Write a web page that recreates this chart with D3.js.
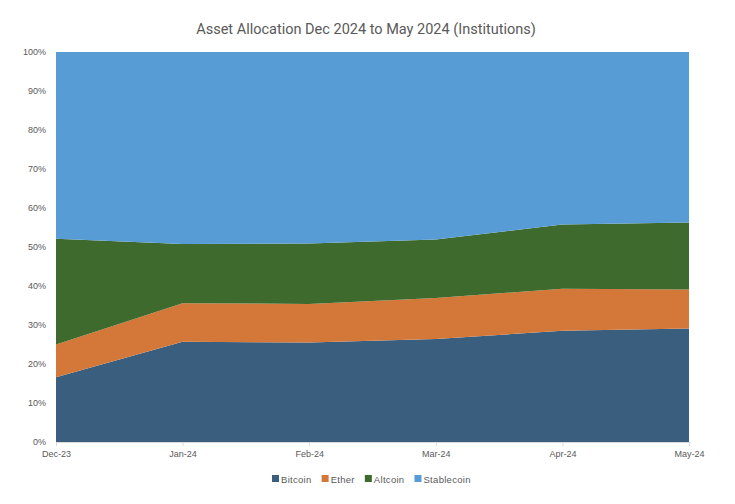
<!DOCTYPE html>
<html>
<head>
<meta charset="utf-8">
<script src="https://cdn.jsdelivr.net/npm/d3@7"></script>
<style>
  body { margin: 0; background: #fff; }
  text { font-family: "Liberation Sans", Arial, sans-serif; }
</style>
</head>
<body>
<svg id="chart" width="735" height="504"></svg>
<script>
// chart data
const months = ["Dec-23", "Jan-24", "Feb-24", "Mar-24", "Apr-24", "May-24"];
const bitcoin = [16.6, 25.7, 25.5, 26.4, 28.5, 29.1];
const ether = [8.4, 9.9, 9.9, 10.5, 10.8, 10.0];
const altcoin = [27.1, 15.2, 15.5, 15.0, 16.5, 17.2];
const stablecoin = [47.9, 49.2, 49.1, 48.1, 44.2, 43.7];
const seriesNames = ["Bitcoin", "Ether", "Altcoin", "Stablecoin"];
const yTicks = [0, 10, 20, 30, 40, 50, 60, 70, 80, 90, 100];

const colors = {Bitcoin: "#3a5e7e", Ether: "#d4783a", Altcoin: "#3e6a2d", Stablecoin: "#579cd4"};
const textCol = "#595959";

const svg = d3.select("#chart");
const margin = {top: 52, right: 46, bottom: 62, left: 56};
const width = 735 - margin.left - margin.right;
const height = 504 - margin.top - margin.bottom;

// build rows for the stack
const rows = months.map((m, i) => ({
    month: m,
    Bitcoin: bitcoin[i],
    Ether: ether[i],
    Altcoin: altcoin[i],
    Stablecoin: stablecoin[i]
}));

const stacked = d3.stack().keys(seriesNames).offset(d3.stackOffsetExpand)(rows);

const x = d3.scalePoint().domain(months).range([0, width]);
const y = d3.scaleLinear().domain([0, 1]).range([height, 0]);

const g = svg.append("g").attr("transform", `translate(${margin.left},${margin.top})`);

const area = d3.area()
    .x(d => x(d.data.month))
    .y0(d => y(d[0]))
    .y1(d => y(d[1]));

g.selectAll("path.layer")
    .data(stacked)
    .join("path")
    .attr("class", "layer")
    .attr("fill", d => colors[d.key])
    .attr("d", area);

// y axis labels only
const yAxis = d3.axisLeft(y)
    .tickValues(yTicks.map(v => v / 100))
    .tickFormat(d => Math.round(d * 100) + "%")
    .tickSize(0)
    .tickPadding(10);
const yG = g.append("g").call(yAxis);
yG.select(".domain").remove();
yG.selectAll("text").attr("fill", textCol).attr("font-size", "9px");

// x axis
const xAxis = d3.axisBottom(x).tickSize(4).tickPadding(5);
const xG = g.append("g").attr("transform", `translate(0,${height})`).call(xAxis);
xG.select(".domain").attr("stroke", "#d9d9d9");
xG.selectAll(".tick line").attr("stroke", "#d9d9d9");
xG.selectAll("text").attr("fill", textCol).attr("font-size", "9px");

// title
svg.append("text")
    .attr("x", 366)
    .attr("y", 34)
    .attr("text-anchor", "middle")
    .attr("font-size", "14.5px")
    .attr("fill", textCol)
    .style("font-family", "'Liberation Sans Narrow', 'Roboto', sans-serif")
    .text("Asset Allocation Dec 2024 to May 2024 (Institutions)");

// legend
const legend = svg.append("g").attr("transform", "translate(272,479)");
let lx = 0;
seriesNames.forEach(name => {
    const item = legend.append("g").attr("transform", `translate(${lx},0)`);
    item.append("rect")
        .attr("x", 0).attr("y", -4)
        .attr("width", 7).attr("height", 7)
        .attr("fill", colors[name]);
    const t = item.append("text")
        .attr("x", 9).attr("y", 3.5)
        .attr("font-size", "9.5px")
        .attr("letter-spacing", "0.3px")
        .attr("fill", textCol)
        .text(name);
    lx += 9 + t.node().getComputedTextLength() + 10;
});
</script>
</body>
</html>
